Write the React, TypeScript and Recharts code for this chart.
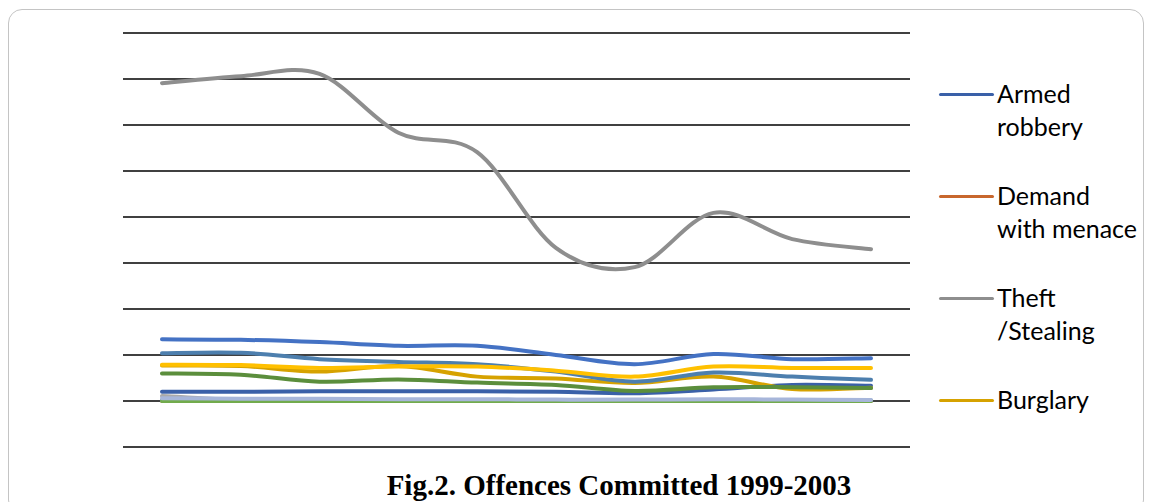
import { LineChart, Line, XAxis, YAxis, CartesianGrid } from "recharts";

// x categories are not labelled on the figure (two points per year)
const periods = [
  "1999 H1", "1999 H2", "2000 H1", "2000 H2", "2001 H1",
  "2001 H2", "2002 H1", "2002 H2", "2003 H1", "2003 H2",
];

const armedRobbery = [100, 100, 105, 105, 105, 100, 85, 125, 175, 165];
const demandWithMenace = [0, 0, 0, 0, 0, 0, 0, 0, 0, 0];
const theftStealing = [3455, 3530, 3555, 2915, 2705, 1665, 1455, 2045, 1760, 1650];
const burglary = [385, 380, 320, 380, 265, 245, 195, 265, 130, 145];
const series5 = [520, 525, 455, 425, 400, 320, 210, 310, 265, 230];
const series6 = [300, 285, 210, 235, 200, 175, 110, 150, 150, 140];
const series7 = [55, 10, 5, 5, 5, 5, 5, 5, 5, 5];
const series8 = [670, 665, 640, 600, 600, 500, 400, 510, 455, 465];
const series9 = [395, 390, 360, 375, 375, 330, 265, 375, 360, 360];
const series10 = [30, 25, 25, 20, 20, 15, 15, 20, 15, 10];
const series11 = [5, 5, 5, 5, 5, 5, 5, 5, 5, 5];
const series12 = [0, 0, 0, 0, 0, 0, 0, 0, 0, 0];

const yTicks = [-500, 0, 500, 1000, 1500, 2000, 2500, 3000, 3500, 4000];

const series = [
  { key: "armed", name: "Armed robbery", values: armedRobbery, color: "#3a60a8" },
  { key: "demand", name: "Demand with menace", values: demandWithMenace, color: "#c8672d" },
  { key: "theft", name: "Theft /Stealing", values: theftStealing, color: "#8e8e8e" },
  { key: "burglary", name: "Burglary", values: burglary, color: "#d6a200" },
  { key: "s5", name: "Series 5", values: series5, color: "#4d7fae" },
  { key: "s6", name: "Series 6", values: series6, color: "#5b8e3c" },
  { key: "s7", name: "Series 7", values: series7, color: "#a9a9a9" },
  { key: "s8", name: "Series 8", values: series8, color: "#4472c4" },
  { key: "s9", name: "Series 9", values: series9, color: "#ffc000" },
  { key: "s11", name: "Series 11", values: series11, color: "#6a9fd6" },
  { key: "s12", name: "Series 12", values: series12, color: "#72ab4c" },
  { key: "s10", name: "Series 10", values: series10, color: "#a7b6da" },
];

// only the first four fit in the original legend
const legendLabels = ["Armed\nrobbery", "Demand\nwith menace", "Theft\n/Stealing", "Burglary"];

const data = periods.map((p, i) => {
  const row: Record<string, string | number> = { period: p };
  series.forEach((s) => (row[s.key] = s.values[i]));
  return row;
});

// Excel-style smoothed line (Catmull-Rom through the points)
function excelSmooth(context: any) {
  let pts: number[][] = [];
  return {
    areaStart() {},
    areaEnd() {},
    lineStart() {
      pts = [];
    },
    point(x: number, y: number) {
      pts.push([+x, +y]);
    },
    lineEnd() {
      const n = pts.length;
      if (!n) return;
      context.moveTo(pts[0][0], pts[0][1]);
      for (let i = 0; i < n - 1; i++) {
        const p0 = pts[i - 1] || pts[i];
        const p1 = pts[i];
        const p2 = pts[i + 1];
        const p3 = pts[i + 2] || p2;
        context.bezierCurveTo(
          p1[0] + (p2[0] - p0[0]) / 6,
          p1[1] + (p2[1] - p0[1]) / 6,
          p2[0] - (p3[0] - p1[0]) / 6,
          p2[1] - (p3[1] - p1[1]) / 6,
          p2[0],
          p2[1]
        );
      }
    },
  };
}

const NoTick = () => <g />;

export default function App() {
  return (
    <div style={{ position: "absolute", left: 0, top: 0, width: 1153, height: 502, overflow: "hidden", background: "#fff" }}>
      <div
        style={{
          position: "absolute",
          left: 8,
          top: 9,
          width: 1136,
          height: 505,
          border: "1px solid #c4c4c4",
          borderRadius: 14,
          boxSizing: "border-box",
        }}
      />
      <div style={{ position: "absolute", left: 0, top: 0 }}>
        <LineChart width={1153} height={502} data={data} margin={{ top: 33, left: 123, right: 243, bottom: 55 }}>
          <CartesianGrid vertical={false} stroke="#000" strokeWidth={1.4} />
          <XAxis dataKey="period" hide padding={{ left: 39, right: 39 }} />
          <YAxis
            domain={[-500, 4000]}
            ticks={yTicks}
            interval={0}
            width={0}
            tick={<NoTick />}
            axisLine={false}
            tickLine={false}
          />
          {series.map((s) => (
            <Line
              key={s.key}
              dataKey={s.key}
              name={s.name}
              type={excelSmooth as any}
              stroke={s.color}
              strokeWidth={4}
              strokeLinecap="round"
              dot={false}
              activeDot={false}
              isAnimationActive={false}
            />
          ))}
        </LineChart>
      </div>

      {legendLabels.map((label, i) => (
        <div key={label} style={{ position: "absolute", left: 939, top: 77 + i * 102 }}>
          <div
            style={{
              position: "absolute",
              left: 0,
              top: 15.5,
              width: 55,
              height: 3,
              borderRadius: 2,
              background: series[i].color,
            }}
          />
          <div
            style={{
              position: "absolute",
              left: 58,
              top: 0,
              whiteSpace: "pre",
              fontFamily: "Lato, sans-serif",
              fontSize: 25,
              lineHeight: "33px",
              color: "#000",
            }}
          >
            {label}
          </div>
        </div>
      ))}

      <div
        style={{
          position: "absolute",
          left: 0,
          width: 1238,
          top: 471,
          textAlign: "center",
          fontFamily: "'Liberation Serif', 'Times New Roman', serif",
          fontWeight: "bold",
          fontSize: 29,
          lineHeight: "28px",
          color: "#000",
          whiteSpace: "nowrap",
        }}
      >
        Fig.2. Offences Committed 1999-2003
      </div>
    </div>
  );
}
